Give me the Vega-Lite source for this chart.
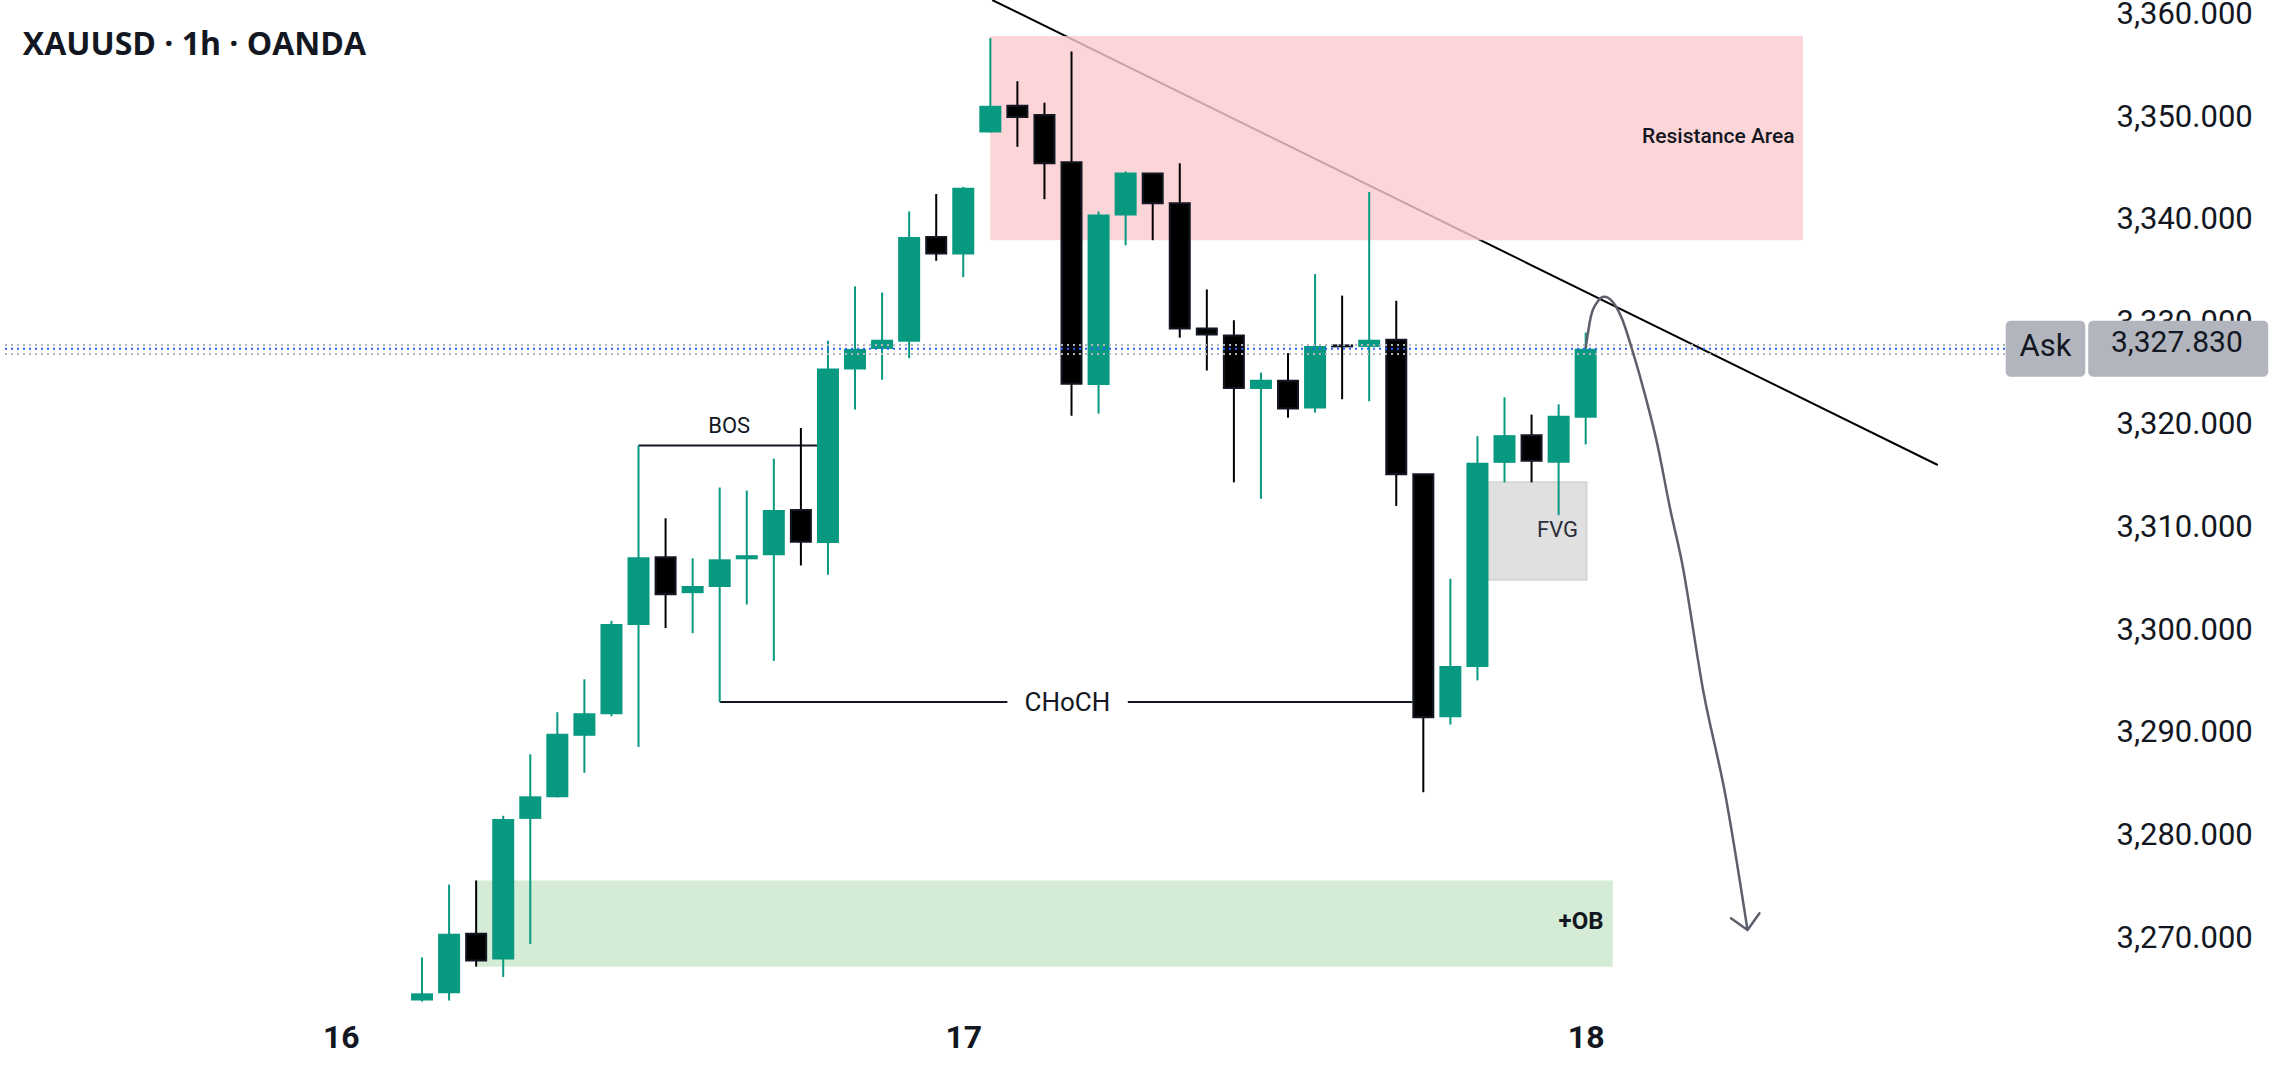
{
  "$schema": "https://vega.github.io/schema/vega-lite/v6.json",
  "width": 2100,
  "height": 1000,
  "padding": {"left": 0, "top": 0, "right": 188, "bottom": 78},
  "autosize": {"type": "none"},
  "background": "#ffffff",
  "config": {
    "view": {"stroke": null},
    "font": "Roboto",
    "axis": {"title": null, "grid": false, "ticks": false, "domain": false}
  },
  "datasets": {
    "candles": [
      {"i": 0, "open": 3264.3, "high": 3268.5, "low": 3264.2, "close": 3265.0},
      {"i": 1, "open": 3265.0, "high": 3275.6, "low": 3264.3, "close": 3270.8},
      {"i": 2, "open": 3270.8, "high": 3276.0, "low": 3267.6, "close": 3268.2},
      {"i": 3, "open": 3268.3, "high": 3282.3, "low": 3266.6, "close": 3282.0},
      {"i": 4, "open": 3282.0, "high": 3288.3, "low": 3269.8, "close": 3284.2},
      {"i": 5, "open": 3284.1, "high": 3292.4, "low": 3284.1, "close": 3290.3},
      {"i": 6, "open": 3290.1, "high": 3295.6, "low": 3286.5, "close": 3292.3},
      {"i": 7, "open": 3292.2, "high": 3301.3, "low": 3292.0, "close": 3301.0},
      {"i": 8, "open": 3300.9, "high": 3318.4, "low": 3289.0, "close": 3307.5},
      {"i": 9, "open": 3307.5, "high": 3311.3, "low": 3300.6, "close": 3303.9},
      {"i": 10, "open": 3304.0, "high": 3307.4, "low": 3300.1, "close": 3304.7},
      {"i": 11, "open": 3304.6, "high": 3314.3, "low": 3293.4, "close": 3307.3},
      {"i": 12, "open": 3307.3, "high": 3314.0, "low": 3302.9, "close": 3307.7},
      {"i": 13, "open": 3307.7, "high": 3317.1, "low": 3297.4, "close": 3312.1},
      {"i": 14, "open": 3312.1, "high": 3320.1, "low": 3306.7, "close": 3309.0},
      {"i": 15, "open": 3308.9, "high": 3328.6, "low": 3305.8, "close": 3325.9},
      {"i": 16, "open": 3325.8, "high": 3333.9, "low": 3321.9, "close": 3327.8},
      {"i": 17, "open": 3327.8, "high": 3333.3, "low": 3324.8, "close": 3328.7},
      {"i": 18, "open": 3328.5, "high": 3341.2, "low": 3326.9, "close": 3338.7},
      {"i": 19, "open": 3338.7, "high": 3342.9, "low": 3336.4, "close": 3337.1},
      {"i": 20, "open": 3337.0, "high": 3343.6, "low": 3334.8, "close": 3343.5},
      {"i": 21, "open": 3348.9, "high": 3358.1, "low": 3348.9, "close": 3351.5},
      {"i": 22, "open": 3351.5, "high": 3353.9, "low": 3347.5, "close": 3350.4},
      {"i": 23, "open": 3350.6, "high": 3351.8, "low": 3342.4, "close": 3345.9},
      {"i": 24, "open": 3346.0, "high": 3356.8, "low": 3321.3, "close": 3324.4},
      {"i": 25, "open": 3324.3, "high": 3341.2, "low": 3321.5, "close": 3340.9},
      {"i": 26, "open": 3340.8, "high": 3345.1, "low": 3337.9, "close": 3345.0},
      {"i": 27, "open": 3344.9, "high": 3344.9, "low": 3338.4, "close": 3342.0},
      {"i": 28, "open": 3342.0, "high": 3345.9, "low": 3328.9, "close": 3329.8},
      {"i": 29, "open": 3329.8, "high": 3333.6, "low": 3325.7, "close": 3329.2},
      {"i": 30, "open": 3329.1, "high": 3330.6, "low": 3314.8, "close": 3324.0},
      {"i": 31, "open": 3323.9, "high": 3325.5, "low": 3313.2, "close": 3324.8},
      {"i": 32, "open": 3324.7, "high": 3327.4, "low": 3321.1, "close": 3322.0},
      {"i": 33, "open": 3322.0, "high": 3335.1, "low": 3321.6, "close": 3328.1},
      {"i": 34, "open": 3328.15, "high": 3333.0, "low": 3322.9, "close": 3328.05},
      {"i": 35, "open": 3328.0, "high": 3343.1, "low": 3322.7, "close": 3328.7},
      {"i": 36, "open": 3328.7, "high": 3332.5, "low": 3312.5, "close": 3315.6},
      {"i": 37, "open": 3315.6, "high": 3315.6, "low": 3284.6, "close": 3291.9},
      {"i": 38, "open": 3291.9, "high": 3305.4, "low": 3291.2, "close": 3296.9},
      {"i": 39, "open": 3296.8, "high": 3319.3, "low": 3295.5, "close": 3316.7},
      {"i": 40, "open": 3316.7, "high": 3323.1, "low": 3314.8, "close": 3319.4},
      {"i": 41, "open": 3319.4, "high": 3321.4, "low": 3314.8, "close": 3316.9},
      {"i": 42, "open": 3316.7, "high": 3322.4, "low": 3311.6, "close": 3321.3},
      {"i": 43, "open": 3321.1, "high": 3329.4, "low": 3318.5, "close": 3327.83}
    ],
    "projection": [
      {"k": 0, "i": 43.0, "p": 3327.87},
      {"k": 1, "i": 43.19, "p": 3330.95},
      {"k": 2, "i": 43.44, "p": 3332.41},
      {"k": 3, "i": 43.68, "p": 3332.89},
      {"k": 4, "i": 43.99, "p": 3332.41},
      {"k": 5, "i": 44.36, "p": 3330.62},
      {"k": 6, "i": 44.72, "p": 3327.7},
      {"k": 7, "i": 45.21, "p": 3323.15},
      {"k": 8, "i": 45.64, "p": 3318.6},
      {"k": 9, "i": 46.13, "p": 3312.1},
      {"k": 10, "i": 46.54, "p": 3307.23},
      {"k": 11, "i": 47.36, "p": 3294.24},
      {"k": 12, "i": 48.15, "p": 3284.49},
      {"k": 13, "i": 48.98, "p": 3271.17}
    ],
    "arrowhead": [
      {"k": 0, "i": 48.37, "p": 3272.31},
      {"k": 1, "i": 48.98, "p": 3271.17},
      {"k": 2, "i": 49.42, "p": 3272.8}
    ]
  },
  "layer": [
    {
      "data": {"values": [{"i": 21.07, "p": 3361.81}, {"i": 56.01, "p": 3316.49}]},
      "mark": {"type": "line", "color": "#000000", "strokeWidth": 2, "clip": true},
      "encoding": {
        "x": {"field": "i", "type": "quantitative", "scale": {"domain": [-15.41, 61.82], "nice": false, "zero": false}},
        "y": {"field": "p", "type": "quantitative", "scale": {"domain": [3264.35, 3361.81], "nice": false, "zero": false}}
      }
    },
    {
      "data": {"values": [{"zone": "Resistance Area", "i0": 21, "i1": 51.03, "p0": 3338.4, "p1": 3358.3}]},
      "mark": {"type": "rect", "fill": "#fbcbce", "opacity": 0.8},
      "encoding": {
        "x": {"field": "i0", "type": "quantitative", "scale": {"domain": [-15.41, 61.82], "nice": false, "zero": false}},
        "x2": {"field": "i1"},
        "y": {"field": "p0", "type": "quantitative", "scale": {"domain": [3264.35, 3361.81], "nice": false, "zero": false}},
        "y2": {"field": "p1"}
      }
    },
    {
      "data": {"values": [{"zone": "+OB", "i0": 2, "i1": 44, "p0": 3267.6, "p1": 3276.0}]},
      "mark": {"type": "rect", "fill": "#4caf50", "opacity": 0.24},
      "encoding": {
        "x": {"field": "i0", "type": "quantitative", "scale": {"domain": [-15.41, 61.82], "nice": false, "zero": false}},
        "x2": {"field": "i1"},
        "y": {"field": "p0", "type": "quantitative", "scale": {"domain": [3264.35, 3361.81], "nice": false, "zero": false}},
        "y2": {"field": "p1"}
      }
    },
    {
      "data": {"values": [{"zone": "FVG", "i0": 39.39, "i1": 43.03, "p0": 3305.3, "p1": 3314.8}]},
      "mark": {"type": "rect", "fill": "#e0e0e0", "stroke": "#d6d6d6", "strokeWidth": 2},
      "encoding": {
        "x": {"field": "i0", "type": "quantitative", "scale": {"domain": [-15.41, 61.82], "nice": false, "zero": false}},
        "x2": {"field": "i1"},
        "y": {"field": "p0", "type": "quantitative", "scale": {"domain": [3264.35, 3361.81], "nice": false, "zero": false}},
        "y2": {"field": "p1"}
      }
    },
    {
      "data": {"values": [
        {"level": "BOS", "i0": 8, "i1": 14.6, "p": 3318.4},
        {"level": "CHoCH", "i0": 11, "i1": 21.63, "p": 3293.4},
        {"level": "CHoCH", "i0": 26.08, "i1": 36.6, "p": 3293.4}
      ]},
      "mark": {"type": "rule", "color": "#131722", "strokeWidth": 2},
      "encoding": {
        "x": {"field": "i0", "type": "quantitative", "scale": {"domain": [-15.41, 61.82], "nice": false, "zero": false}},
        "x2": {"field": "i1"},
        "y": {"field": "p", "type": "quantitative", "scale": {"domain": [3264.35, 3361.81], "nice": false, "zero": false}}
      }
    },
    {
      "data": {"name": "candles"},
      "mark": {"type": "rule", "strokeWidth": 2},
      "encoding": {
        "x": {
          "field": "i", "type": "quantitative",
          "scale": {"domain": [-15.41, 61.82], "nice": false, "zero": false},
          "axis": {
            "values": [-3, 20, 43],
            "labelExpr": "datum.value == -3 ? '16' : datum.value == 20 ? '17' : '18'",
            "title": null, "grid": false, "ticks": false, "domain": false,
            "labelFont": "Roboto", "labelFontSize": 32, "labelFontWeight": "bold",
            "labelColor": "#131722", "labelPadding": 37, "labelBaseline": "middle",
            "labelFlush": false, "labelOverlap": false
          }
        },
        "y": {
          "field": "low", "type": "quantitative",
          "scale": {"domain": [3264.35, 3361.81], "nice": false, "zero": false},
          "axis": {
            "orient": "right",
            "values": [3270, 3280, 3290, 3300, 3310, 3320, 3330, 3340, 3350, 3360],
            "format": ",.3f",
            "title": null, "grid": false, "ticks": false, "domain": false,
            "labelFont": "Roboto", "labelFontSize": 31, "labelColor": "#131722",
            "labelPadding": 16, "labelAlign": "left", "labelBaseline": "middle",
            "labelOffset": -4, "labelOverlap": false, "labelFlush": false
          }
        },
        "y2": {"field": "high"},
        "color": {"condition": {"test": "datum.close >= datum.open", "value": "#089981"}, "value": "#000000"}
      }
    },
    {
      "data": {"name": "candles"},
      "transform": [{"filter": "datum.close >= datum.open"}],
      "mark": {"type": "bar", "size": 22, "fill": "#089981"},
      "encoding": {
        "x": {"field": "i", "type": "quantitative", "scale": {"domain": [-15.41, 61.82], "nice": false, "zero": false}},
        "y": {"field": "open", "type": "quantitative", "scale": {"domain": [3264.35, 3361.81], "nice": false, "zero": false}},
        "y2": {"field": "close"}
      }
    },
    {
      "data": {"name": "candles"},
      "transform": [{"filter": "datum.close < datum.open"}],
      "mark": {"type": "bar", "size": 20, "fill": "#000000", "stroke": "#131722", "strokeWidth": 2},
      "encoding": {
        "x": {"field": "i", "type": "quantitative", "scale": {"domain": [-15.41, 61.82], "nice": false, "zero": false}},
        "y": {"field": "open", "type": "quantitative", "scale": {"domain": [3264.35, 3361.81], "nice": false, "zero": false}},
        "y2": {"field": "close"}
      }
    },
    {
      "data": {"values": [{"line": "upper", "i0": -15.41, "i1": 58.52, "p": 3328.19}, {"line": "lower", "i0": -15.41, "i1": 58.52, "p": 3327.31}]},
      "mark": {"type": "rule", "color": "#b2b5be", "strokeWidth": 2, "strokeDash": [2, 4]},
      "encoding": {
        "x": {"field": "i0", "type": "quantitative", "scale": {"domain": [-15.41, 61.82], "nice": false, "zero": false}},
        "x2": {"field": "i1"},
        "y": {"field": "p", "type": "quantitative", "scale": {"domain": [3264.35, 3361.81], "nice": false, "zero": false}}
      }
    },
    {
      "data": {"values": [{"line": "ask", "i0": -15.41, "i1": 58.52, "p": 3327.83}]},
      "mark": {"type": "rule", "color": "#2962ff", "strokeWidth": 2, "strokeDash": [2, 4]},
      "encoding": {
        "x": {"field": "i0", "type": "quantitative", "scale": {"domain": [-15.41, 61.82], "nice": false, "zero": false}},
        "x2": {"field": "i1"},
        "y": {"field": "p", "type": "quantitative", "scale": {"domain": [3264.35, 3361.81], "nice": false, "zero": false}}
      }
    },
    {
      "data": {"name": "projection"},
      "mark": {"type": "line", "color": "#5d606b", "strokeWidth": 2.5, "interpolate": "monotone"},
      "encoding": {
        "x": {"field": "i", "type": "quantitative", "scale": {"domain": [-15.41, 61.82], "nice": false, "zero": false}},
        "y": {"field": "p", "type": "quantitative", "scale": {"domain": [3264.35, 3361.81], "nice": false, "zero": false}},
        "order": {"field": "k"}
      }
    },
    {
      "data": {"name": "arrowhead"},
      "mark": {"type": "line", "color": "#5d606b", "strokeWidth": 2.5, "strokeCap": "round", "strokeJoin": "round"},
      "encoding": {
        "x": {"field": "i", "type": "quantitative", "scale": {"domain": [-15.41, 61.82], "nice": false, "zero": false}},
        "y": {"field": "p", "type": "quantitative", "scale": {"domain": [3264.35, 3361.81], "nice": false, "zero": false}},
        "order": {"field": "k"}
      }
    },
    {
      "data": {"values": [{"label": "BOS", "i": 11.35, "p": 3320.3}]},
      "mark": {"type": "text", "font": "Roboto", "fontSize": 22, "color": "#131722", "baseline": "middle", "align": "center"},
      "encoding": {
        "x": {"field": "i", "type": "quantitative", "scale": {"domain": [-15.41, 61.82], "nice": false, "zero": false}},
        "y": {"field": "p", "type": "quantitative", "scale": {"domain": [3264.35, 3361.81], "nice": false, "zero": false}},
        "text": {"field": "label"}
      }
    },
    {
      "data": {"values": [{"label": "CHoCH", "i": 23.85, "p": 3293.3}]},
      "mark": {"type": "text", "font": "Roboto", "fontSize": 26, "color": "#131722", "baseline": "middle", "align": "center"},
      "encoding": {
        "x": {"field": "i", "type": "quantitative", "scale": {"domain": [-15.41, 61.82], "nice": false, "zero": false}},
        "y": {"field": "p", "type": "quantitative", "scale": {"domain": [3264.35, 3361.81], "nice": false, "zero": false}},
        "text": {"field": "label"}
      }
    },
    {
      "data": {"values": [{"label": "FVG", "i": 41.96, "p": 3310.2}]},
      "mark": {"type": "text", "font": "Roboto", "fontSize": 22, "color": "#2a2e39", "baseline": "middle", "align": "center"},
      "encoding": {
        "x": {"field": "i", "type": "quantitative", "scale": {"domain": [-15.41, 61.82], "nice": false, "zero": false}},
        "y": {"field": "p", "type": "quantitative", "scale": {"domain": [3264.35, 3361.81], "nice": false, "zero": false}},
        "text": {"field": "label"}
      }
    },
    {
      "data": {"values": [{"label": "Resistance Area", "i": 50.72, "p": 3348.46}]},
      "mark": {"type": "text", "font": "Roboto", "fontSize": 21, "fontWeight": 500, "color": "#131722", "baseline": "middle", "align": "right"},
      "encoding": {
        "x": {"field": "i", "type": "quantitative", "scale": {"domain": [-15.41, 61.82], "nice": false, "zero": false}},
        "y": {"field": "p", "type": "quantitative", "scale": {"domain": [3264.35, 3361.81], "nice": false, "zero": false}},
        "text": {"field": "label"}
      }
    },
    {
      "data": {"values": [{"label": "+OB", "i": 43.66, "p": 3271.95}]},
      "mark": {"type": "text", "font": "Roboto", "fontSize": 24, "fontWeight": "bold", "color": "#131722", "baseline": "middle", "align": "right"},
      "encoding": {
        "x": {"field": "i", "type": "quantitative", "scale": {"domain": [-15.41, 61.82], "nice": false, "zero": false}},
        "y": {"field": "p", "type": "quantitative", "scale": {"domain": [3264.35, 3361.81], "nice": false, "zero": false}},
        "text": {"field": "label"}
      }
    },
    {
      "data": {"values": [{"label": "XAUUSD · 1h · OANDA", "i": -14.75, "p": 3357.4}]},
      "mark": {"type": "text", "font": "Open Sans", "fontSize": 32, "fontWeight": "bold", "color": "#131722", "baseline": "middle", "align": "left"},
      "encoding": {
        "x": {"field": "i", "type": "quantitative", "scale": {"domain": [-15.41, 61.82], "nice": false, "zero": false}},
        "y": {"field": "p", "type": "quantitative", "scale": {"domain": [3264.35, 3361.81], "nice": false, "zero": false}},
        "text": {"field": "label"}
      }
    },
    {
      "data": {"values": [{"tag": "Ask", "i0": 58.52, "i1": 61.46, "p0": 3325.1, "p1": 3330.55}, {"tag": "price", "i0": 61.57, "i1": 68.22, "p0": 3325.1, "p1": 3330.55}]},
      "mark": {"type": "rect", "fill": "#b2b5be", "cornerRadius": 5},
      "encoding": {
        "x": {"field": "i0", "type": "quantitative", "scale": {"domain": [-15.41, 61.82], "nice": false, "zero": false}},
        "x2": {"field": "i1"},
        "y": {"field": "p0", "type": "quantitative", "scale": {"domain": [3264.35, 3361.81], "nice": false, "zero": false}},
        "y2": {"field": "p1"}
      }
    },
    {
      "data": {"values": [{"label": "Ask", "i": 59.99, "p": 3327.83}]},
      "mark": {"type": "text", "font": "Roboto", "fontSize": 31, "color": "#131722", "baseline": "middle", "align": "center", "dy": -2},
      "encoding": {
        "x": {"field": "i", "type": "quantitative", "scale": {"domain": [-15.41, 61.82], "nice": false, "zero": false}},
        "y": {"field": "p", "type": "quantitative", "scale": {"domain": [3264.35, 3361.81], "nice": false, "zero": false}},
        "text": {"field": "label"}
      }
    },
    {
      "data": {"values": [{"i": 62.41, "ask": 3327.83}]},
      "mark": {"type": "text", "font": "Roboto", "fontSize": 30, "color": "#131722", "baseline": "middle", "align": "left", "dy": -6},
      "encoding": {
        "x": {"field": "i", "type": "quantitative", "scale": {"domain": [-15.41, 61.82], "nice": false, "zero": false}},
        "y": {"field": "ask", "type": "quantitative", "scale": {"domain": [3264.35, 3361.81], "nice": false, "zero": false}},
        "text": {"field": "ask", "format": ",.3f"}
      }
    }
  ]
}
